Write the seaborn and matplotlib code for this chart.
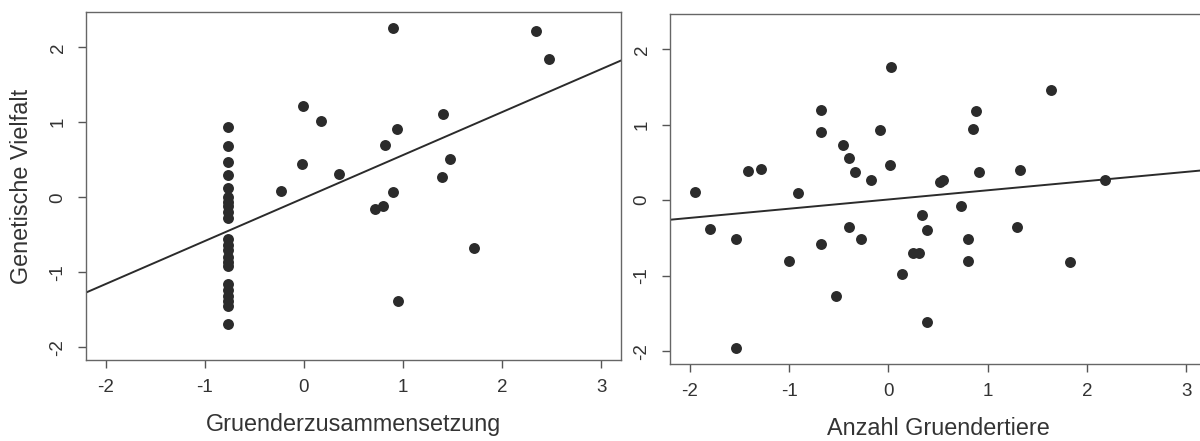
import numpy as np
import matplotlib
matplotlib.use('Agg')
import matplotlib.pyplot as plt
import seaborn as sns

# left panel: Gruenderzusammensetzung vs Genetische Vielfalt
comp_x = [-0.77] * 22 + [-0.23, -0.02, -0.01, 0.17, 0.35, 0.90, 2.34, 2.47, 1.40,
                         0.94, 0.82, 1.47, 1.39, 0.90, 0.72, 0.80, 1.72, 0.95]
comp_y = [0.94, 0.69, 0.47, 0.30, 0.12, 0.01, -0.06, -0.12, -0.20, -0.28, -0.56,
          -0.64, -0.70, -0.79, -0.86, -0.92, -1.16, -1.24, -1.32, -1.39, -1.45, -1.69,
          0.08, 0.44, 1.22, 1.02, 0.31, 2.26, 2.22, 1.85, 1.11,
          0.91, 0.70, 0.51, 0.27, 0.07, -0.16, -0.11, -0.67, -1.38]
comp_fit = (-0.01, 0.573)   # intercept, slope

# right panel: Anzahl Gruendertiere vs Genetische Vielfalt
num_x = [-1.95, -1.80, -1.53, -1.53, -1.41, -1.28, -1.00, -0.91, -0.68, -0.68, -0.68,
         -0.53, -0.46, -0.40, -0.40, -0.34, -0.28, -0.17, -0.08, 0.02, 0.03, 0.14,
         0.34, 0.25, 0.31, 0.39, 0.39, 0.52, 0.55, 0.73, 0.80, 0.80, 0.85, 0.88,
         0.91, 1.30, 1.33, 1.64, 1.83, 2.18]
num_y = [0.11, -0.38, -0.52, -1.96, 0.39, 0.42, -0.81, 0.09, 1.20, 0.90, -0.58,
         -1.27, 0.73, 0.56, -0.35, 0.37, -0.51, 0.27, 0.93, 0.47, 1.77, -0.98,
         -0.19, -0.70, -0.70, -0.40, -1.61, 0.24, 0.27, -0.08, -0.51, -0.81, 0.94, 1.18,
         0.38, -0.36, 0.40, 1.46, -0.82, 0.27]
num_fit = (0.01, 0.122)

ticks = [-2, -1, 0, 1, 2, 3]
yticks = [-2, -1, 0, 1, 2]

sns.set_style('white')
plt.rcParams['font.family'] = ['Liberation Sans', 'DejaVu Sans']
plt.rcParams['axes.unicode_minus'] = False

fig = plt.figure(figsize=(12, 4.41), dpi=100)
ax0 = fig.add_axes([0.0717, 0.1837, 0.4458, 0.789])
ax1 = fig.add_axes([0.5583, 0.1746, 0.4467, 0.794])

ink = '#2b2b2b'
for ax, xs, ys, fit, xlab in [(ax0, comp_x, comp_y, comp_fit, 'Gruenderzusammensetzung'),
                              (ax1, num_x, num_y, num_fit, 'Anzahl Gruendertiere')]:
    sns.scatterplot(x=xs, y=ys, ax=ax, color=ink, s=62, linewidth=0, zorder=3)
    ax.axline((0, fit[0]), slope=fit[1], color=ink, lw=1.4)
    ax.set_xlim(-2.2, 3.2)
    ax.set_ylim(-2.17, 2.47)
    ax.set_xticks(ticks)
    ax.set_xticklabels([str(t) for t in ticks])
    ax.set_yticks(yticks)
    ax.set_yticklabels([str(t) for t in yticks], rotation=90, va='center')
    ax.tick_params(axis='both', direction='out', length=6, width=1, color='#555555',
                   labelsize=13.5, labelcolor='#333333', pad=8,
                   bottom=True, left=True)
    for sp in ax.spines.values():
        sp.set_color('#666666')
        sp.set_linewidth(1)
    ax.set_xlabel(xlab, fontsize=16.8, color='#333333', labelpad=12)

ax0.set_ylabel('Genetische Vielfalt', fontsize=16.8, color='#333333', labelpad=12)

fig.savefig('out.png', dpi=100, facecolor='white')
